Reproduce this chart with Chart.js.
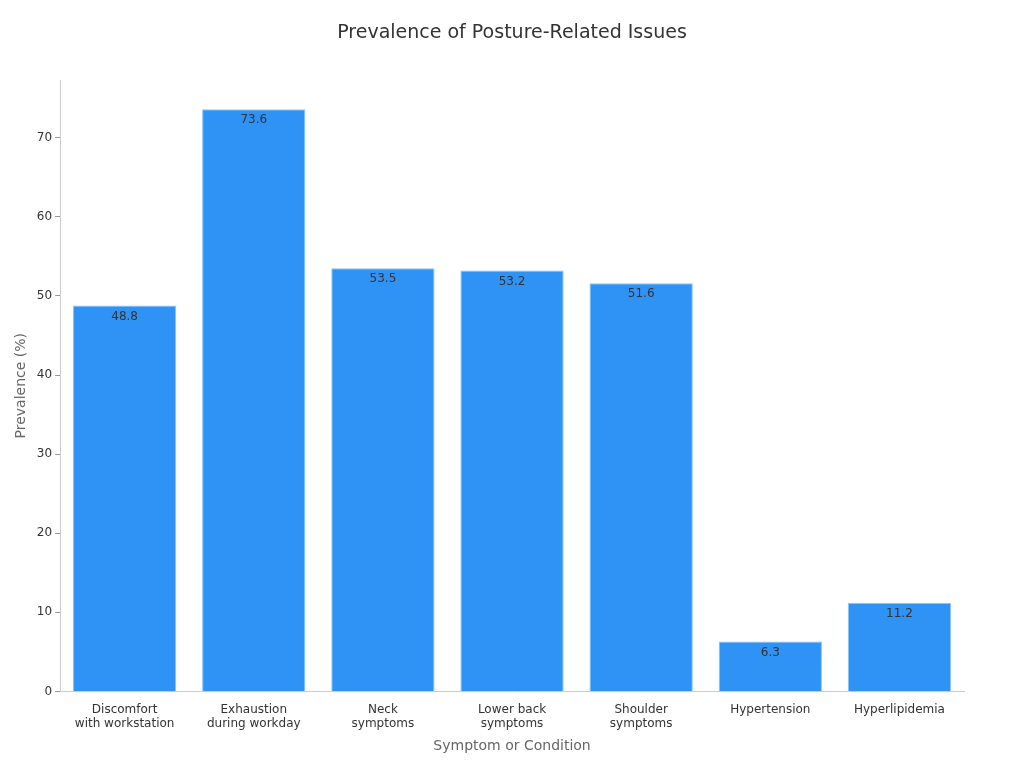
<!DOCTYPE html>
<html><head><meta charset="utf-8">
<script src="https://cdn.jsdelivr.net/npm/chart.js@4/dist/chart.umd.min.js"></script>
<style>html,body{margin:0;padding:0;background:#fff}#w{width:1024px;height:768px}</style>
</head><body><div id="w"><canvas id="c"></canvas></div>
<script>
const chartTitle = 'Prevalence of Posture-Related Issues';
const categories = [["Discomfort","with workstation"],["Exhaustion","during workday"],["Neck","symptoms"],["Lower back","symptoms"],["Shoulder","symptoms"],"Hypertension","Hyperlipidemia"];
const values = [48.8,73.6,53.5,53.2,51.6,6.3,11.2];
const labelPlugin = {id:'lbl',afterDatasetsDraw(chart){const ctx=chart.ctx;const meta=chart.getDatasetMeta(0);ctx.save();ctx.font='12px "DejaVu Sans"';ctx.fillStyle='#333';ctx.textAlign='center';ctx.textBaseline='top';meta.data.forEach((b,i)=>{ctx.fillText(values[i].toFixed(1),b.x,b.y+5);});
ctx.font='19px "DejaVu Sans"';ctx.textBaseline='middle';ctx.fillText(chartTitle,chart.width/2,33);ctx.restore();}};
new Chart(document.getElementById('c'),{type:'bar',data:{labels:categories,datasets:[{data:values,backgroundColor:'#2E93F5',borderColor:'#8CC4F7',borderWidth:1,categoryPercentage:0.8,barPercentage:1}]},
options:{responsive:true,maintainAspectRatio:false,animation:false,
layout:{padding:{left:9,right:60,top:80,bottom:9}},
plugins:{legend:{display:false},tooltip:{enabled:false}},
scales:{x:{grid:{display:false},border:{color:'#ccc'},ticks:{color:'#333',font:{family:'DejaVu Sans',size:12},maxRotation:0},title:{display:true,text:'Symptom or Condition',color:'#666',font:{family:'DejaVu Sans',size:14}}},
y:{min:0,max:77.3,afterBuildTicks(ax){ax.ticks=ax.ticks.filter(t=>t.value%10===0);},grid:{display:true,drawOnChartArea:false,color:'#999',tickLength:5},border:{color:'#ccc'},ticks:{stepSize:10,color:'#333',font:{family:'DejaVu Sans',size:12}},title:{display:true,text:'Prevalence (%)',color:'#666',font:{family:'DejaVu Sans',size:14}}}}},
plugins:[labelPlugin]});
</script></body></html>
